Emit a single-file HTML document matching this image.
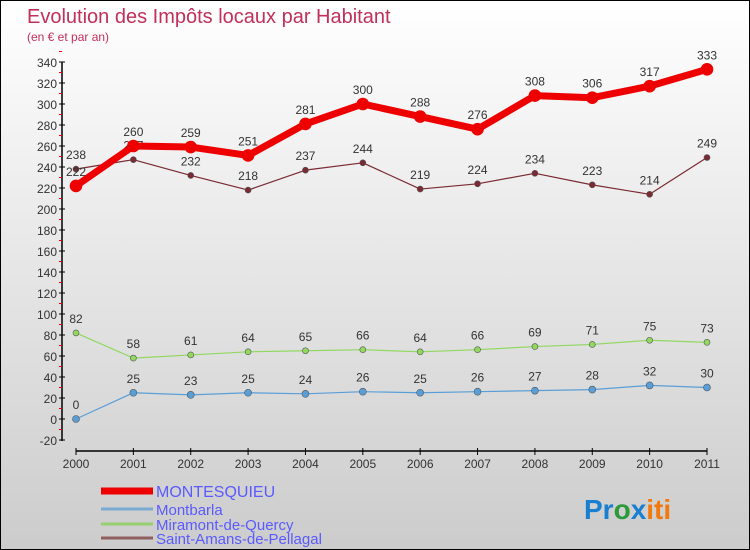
<!DOCTYPE html>
<html><head><meta charset="utf-8"><style>
body{margin:0}
#c{width:750px;height:550px;position:relative;box-sizing:border-box;border:1px solid #000;background:linear-gradient(#fff,#ccc);font-family:"Liberation Sans",sans-serif;overflow:hidden}
svg{position:absolute;left:0;top:0}
</style></head><body>
<div id="c">
<svg id="s" width="750" height="550">
<text x="26" y="22" font-size="20" fill="#c0305a">Evolution des Impôts locaux par Habitant</text>
<text x="26" y="40" font-size="12" fill="#c0305a">(en € et par an)</text>
<text x="583" y="518" font-size="28" font-weight="bold"><tspan fill="#1a7fd0">Pr</tspan><tspan fill="#2a9a3a">o</tspan><tspan fill="#1a7fd0">x</tspan><tspan fill="#f07a10">iti</tspan></text>
</svg>
</div>
<script>
const years=[2000,2001,2002,2003,2004,2005,2006,2007,2008,2009,2010,2011];
const yTicks=[-20,0,20,40,60,80,100,120,140,160,180,200,220,240,260,280,300,320,340];
const montesquieu=[222,260,259,251,281,300,288,276,308,306,317,333];
const montbarla=[0,25,23,25,24,26,25,26,27,28,32,30];
const miramont=[82,58,61,64,65,66,64,66,69,71,75,73];
const saintAmans=[238,247,232,218,237,244,219,224,234,223,214,249];
const names=["MONTESQUIEU","Montbarla","Miramont-de-Quercy","Saint-Amans-de-Pellagal"];
const s=document.getElementById('s');const NS="http://www.w3.org/2000/svg";
function X(i){return 75+i*(706-75)/11}
function Y(v){return 418-v*1.05}
function el(t,a,p){const e=document.createElementNS(NS,t);for(const k in a)e.setAttribute(k,a[k]);(p||s).appendChild(e);return e}
let ax=el('line',{x1:61,y1:Y(340),x2:61,y2:Y(-20)+1,stroke:'#000','stroke-width':1.5});


yTicks.forEach(v=>{el('line',{x1:58,x2:64,y1:Y(v),y2:Y(v),stroke:'#000'});
 el('line',{x1:58,x2:61,y1:Y(v+10),y2:Y(v+10),stroke:'#e00'});
 const t=el('text',{x:56,y:Y(v)+5,'text-anchor':'end','font-size':12,fill:'#333'});t.textContent=v;
 
 });
let xa=el('line',{x1:75,y1:450,x2:706,y2:450,stroke:'#000','stroke-width':1.5});


years.forEach((y,i)=>{el('line',{x1:X(i),x2:X(i),y1:447,y2:454,stroke:'#000'});
 const t=el('text',{x:X(i),y:467,'text-anchor':'middle','font-size':12,fill:'#333'});t.textContent=y;
 
 });
function series(d,col,w,r,nm){
 const p=el('polyline',{points:d.map((v,i)=>X(i)+','+Y(v)).join(' '),fill:'none',stroke:col,'stroke-width':w,'stroke-linejoin':'round'});
 
 
 d.forEach((v,i)=>{const c=el('circle',{cx:X(i),cy:Y(v),r:r,fill:col,stroke:w>3?col:'#555','stroke-width':0.6});
  
  
  const t=el('text',{x:X(i),y:Y(v)-10,'text-anchor':'middle','font-size':12,fill:'#333'});t.textContent=v;
  
  });
}
series(saintAmans,'#7a2a32',1.2,3,'saint-amans');
series(miramont,'#90d860',1.2,3,'miramont');
series(montbarla,'#5a9ed8',1.2,3.5,'montbarla');
series(montesquieu,'#ee0000',7,6,'montesquieu');
const lc=['#ee0000','#7aaad0','#98d070','#906060'],lw=[7,3,3,3],ly=[490,508,523,537];
names.forEach((n,i)=>{const l=el('line',{x1:100,x2:152,y1:ly[i],y2:ly[i],stroke:lc[i],'stroke-width':lw[i]});
 
 
 const t=el('text',{x:155,y:ly[i]+6,'font-size':i?15:16,fill:'#5a5aff'});t.textContent=n;
 
 });
</script>
</body></html>
